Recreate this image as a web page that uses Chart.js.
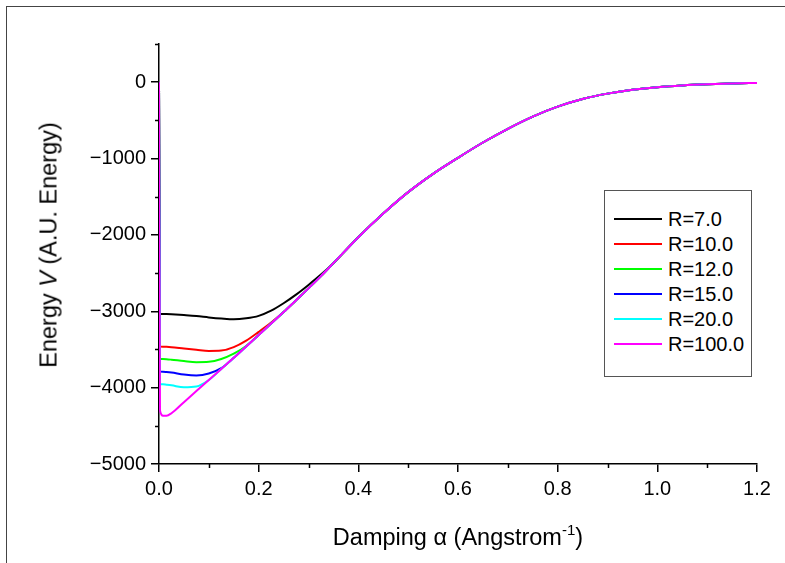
<!DOCTYPE html>
<html>
<head>
<meta charset="utf-8">
<script src="https://cdn.jsdelivr.net/npm/chart.js@4/dist/chart.umd.min.js"></script>
<style>
  html, body { margin: 0; padding: 0; background: #fff; overflow: hidden; }
  #wrap { position: relative; width: 785px; height: 563px; font-family: "Liberation Sans", Arial, sans-serif; }
  #frame { position: absolute; left: 6px; top: 6px; width: 900px; height: 700px; border: 1px solid #444; box-sizing: border-box; }
  canvas { position: absolute; left: 0; top: 0; }
  .ytitle { position: absolute; font-size: 23.5px; white-space: nowrap; transform: translate(-50%, -50%) rotate(-90deg); color: #000; }
  .xtitle { position: absolute; font-size: 23.5px; white-space: nowrap; transform: translate(-50%, -50%); color: #000; }
  .xtitle sup { font-size: 15px; vertical-align: 10px; line-height: 0; }
  #legend { position: absolute; border: 1px solid #555; background: #fff; box-sizing: border-box; }
  .row { position: absolute; left: 0; height: 24px; font-size: 20px; line-height: 24px; color: #000; white-space: nowrap; }
  .row .swatch { position: absolute; left: 9px; top: 11px; width: 48px; height: 2px; }
  .row .lbl { position: absolute; left: 63px; top: 0; }
</style>
</head>
<body>
<div id="wrap">
  <div id="frame"></div>
  <canvas id="chart" width="785" height="563"></canvas>
  <div class="ytitle" id="ytitle">Energy <i>V</i> (A.U. Energy)</div>
  <div class="xtitle" id="xtitle">Damping α (Angstrom<sup>-1</sup>)</div>
  <div id="legend"></div>
</div>
<script>
// Damping parameter α (Å⁻¹), shared by every series
const alpha = [0, 0.002, 0.008, 0.015, 0.025, 0.05, 0.075, 0.1, 0.125, 0.15, 0.175, 0.2, 0.225, 0.25,
  0.275, 0.3, 0.325, 0.35, 0.4, 0.45, 0.5, 0.55, 0.6, 0.65, 0.7, 0.75, 0.8, 0.85, 0.9, 0.95,
  1.0, 1.05, 1.1, 1.15, 1.2];

// Common tail shared by all separations once the curves merge (α ≥ 0.35)
const tailEnergy = [-2370, -2030, -1720, -1440, -1200, -990, -790, -610, -450, -320, -220, -150,
  -100, -65, -42, -27, -17, -10];

// Energy V (A.U.) for the head of each curve, α = 0 … 0.325
const energyR7   = [0, -3035, -3036, -3037, -3040, -3050, -3062, -3080, -3095, -3105, -3092, -3060,
  -2992, -2895, -2782, -2655, -2520];
const energyR10  = [0, -3462, -3463, -3465, -3470, -3488, -3505, -3520, -3515, -3470, -3385, -3270,
  -3148, -3010, -2855, -2700, -2540];
const energyR12  = [0, -3625, -3626, -3628, -3634, -3652, -3666, -3662, -3625, -3555, -3455, -3310,
  -3160, -3010, -2855, -2700, -2540];
const energyR15  = [0, -3790, -3792, -3795, -3802, -3828, -3840, -3815, -3745, -3610, -3460, -3310,
  -3160, -3010, -2855, -2700, -2540];
const energyR20  = [0, -3955, -3957, -3962, -3970, -3995, -3985, -3900, -3755, -3610, -3460, -3310,
  -3160, -3010, -2855, -2700, -2540];
const energyR100 = [0, -4300, -4368, -4368, -4335, -4190, -4045, -3900, -3755, -3610, -3460, -3310,
  -3160, -3010, -2855, -2700, -2540];

const seriesLabels = ['R=7.0', 'R=10.0', 'R=12.0', 'R=15.0', 'R=20.0', 'R=100.0'];
const seriesColors = ['#000000', '#ff0000', '#00ff00', '#0000ff', '#00ffff', '#ff00ff'];
const seriesHeads = [energyR7, energyR10, energyR12, energyR15, energyR20, energyR100];

// Axis tick values
const xMajorTicks = [0, 0.2, 0.4, 0.6, 0.8, 1.0, 1.2];
const xMinorTicks = [0.1, 0.3, 0.5, 0.7, 0.9, 1.1];
const yMajorTicks = [-5000, -4000, -3000, -2000, -1000, 0];
const yMinorTicks = [-4500, -3500, -2500, -1500, -500, 500];

const toPoints = (head) => head.concat(tailEnergy).map((v, i) => ({ x: alpha[i], y: v }));

const datasets = seriesHeads.map((head, i) => ({
  label: seriesLabels[i],
  data: toPoints(head),
  borderColor: seriesColors[i],
  backgroundColor: seriesColors[i],
  borderWidth: 2,
  pointRadius: 0,
  fill: false,
  cubicInterpolationMode: 'monotone',
  order: seriesHeads.length - i
}));

const FONT = { family: '"Liberation Sans", Arial, sans-serif', size: 20 };
const AXIS_COLOR = '#000';

// Short unlabeled ticks between the labeled ones
const minorTicks = {
  id: 'minorTicks',
  afterDraw(chart) {
    const { ctx, chartArea } = chart;
    const xs = chart.scales.x, ys = chart.scales.y;
    ctx.save();
    ctx.strokeStyle = AXIS_COLOR;
    ctx.lineWidth = 1.5;
    ctx.beginPath();
    xMinorTicks.forEach(v => {
      const px = Math.round(xs.getPixelForValue(v)) + 0.5;
      ctx.moveTo(px, chartArea.bottom);
      ctx.lineTo(px, chartArea.bottom + 4);
    });
    yMinorTicks.forEach(v => {
      const py = Math.round(ys.getPixelForValue(v)) + 0.5;
      ctx.moveTo(chartArea.left, py);
      ctx.lineTo(chartArea.left - 4, py);
    });
    ctx.stroke();
    ctx.restore();
  }
};

const chart = new Chart(document.getElementById('chart'), {
  type: 'line',
  data: { datasets },
  options: {
    responsive: false,
    animation: false,
    events: [],
    layout: { padding: { left: 0, top: 44, right: 28, bottom: 0 } },
    plugins: { legend: { display: false }, tooltip: { enabled: false } },
    scales: {
      x: {
        type: 'linear',
        min: 0, max: 1.2,
        bounds: 'data',
        afterFit(scale) { scale.height = 99; },
        afterBuildTicks(scale) { scale.ticks = xMajorTicks.map(v => ({ value: v })); },
        ticks: {
          color: '#000', font: FONT, padding: 5, maxRotation: 0, autoSkip: false,
          callback: v => Number(v).toFixed(1)
        },
        grid: { drawOnChartArea: false, drawTicks: true, tickLength: 8, color: AXIS_COLOR, lineWidth: 1.5 },
        border: { display: true, color: AXIS_COLOR, width: 1.5 }
      },
      y: {
        type: 'linear',
        min: -5000, max: 500,
        bounds: 'data',
        afterFit(scale) { scale.width = 159; },
        afterBuildTicks(scale) { scale.ticks = yMajorTicks.map(v => ({ value: v })); },
        ticks: {
          color: '#000', font: FONT, padding: 5, autoSkip: false,
          callback: v => (v < 0 ? '\u2212' : '') + Math.abs(v)
        },
        grid: { drawOnChartArea: false, drawTicks: true, tickLength: 8, color: AXIS_COLOR, lineWidth: 1.5 },
        border: { display: true, color: AXIS_COLOR, width: 1.5 }
      }
    }
  },
  plugins: [minorTicks]
});

// Place axis titles and the legend box from the chart area
const area = chart.chartArea;
const yt = document.getElementById('ytitle');
yt.style.left = '49px';
yt.style.top = ((area.top + area.bottom) / 2 - 9) + 'px';
const xt = document.getElementById('xtitle');
xt.style.left = ((area.left + area.right) / 2) + 'px';
xt.style.top = '537px';

const legend = document.getElementById('legend');
legend.style.left = '604px';
legend.style.top = '190px';
legend.style.width = '148px';
legend.style.height = '187px';
datasets.forEach((ds, i) => {
  const row = document.createElement('div');
  row.className = 'row';
  row.style.top = (16 + i * 25) + 'px';
  row.style.width = '140px';
  const sw = document.createElement('div');
  sw.className = 'swatch';
  sw.style.background = ds.borderColor;
  const lb = document.createElement('span');
  lb.className = 'lbl';
  lb.textContent = ds.label;
  row.appendChild(sw);
  row.appendChild(lb);
  legend.appendChild(row);
});
</script>
</body>
</html>
